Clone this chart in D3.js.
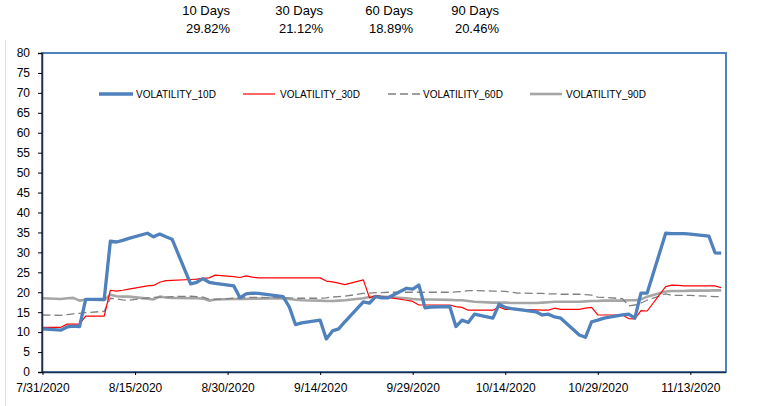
<!DOCTYPE html>
<html>
<head>
<meta charset="utf-8">
<script src="https://cdn.jsdelivr.net/npm/d3@7"></script>
<style>
  html, body { margin: 0; padding: 0; background: #fff; }
  svg { display: block; font-family: "Liberation Sans", Arial, Helvetica, sans-serif; }
</style>
</head>
<body>
<svg id="chart" width="760" height="406"></svg>
<script>
// ---- data ----
const dates = [
  "7/31/2020","8/3/2020","8/4/2020","8/5/2020","8/6/2020","8/7/2020",
  "8/10/2020","8/11/2020","8/12/2020","8/13/2020","8/14/2020",
  "8/17/2020","8/18/2020","8/19/2020","8/20/2020","8/21/2020",
  "8/24/2020","8/25/2020","8/26/2020","8/27/2020","8/28/2020",
  "8/31/2020","9/1/2020","9/2/2020","9/3/2020","9/4/2020",
  "9/8/2020","9/9/2020","9/10/2020","9/11/2020",
  "9/14/2020","9/15/2020","9/16/2020","9/17/2020","9/18/2020",
  "9/21/2020","9/22/2020","9/23/2020","9/24/2020","9/25/2020",
  "9/28/2020","9/29/2020","9/30/2020","10/1/2020","10/2/2020",
  "10/5/2020","10/6/2020","10/7/2020","10/8/2020","10/9/2020",
  "10/12/2020","10/13/2020","10/14/2020","10/15/2020","10/16/2020",
  "10/19/2020","10/20/2020","10/21/2020","10/22/2020","10/23/2020",
  "10/26/2020","10/27/2020","10/28/2020","10/29/2020","10/30/2020",
  "11/2/2020","11/3/2020","11/4/2020","11/5/2020","11/6/2020",
  "11/9/2020","11/10/2020","11/11/2020","11/12/2020","11/13/2020",
  "11/16/2020","11/17/2020","11/18/2020"
];
const vol10 = [
  10.8,10.5,11.3,11.5,11.4,18.2,
  18.2,32.8,32.6,33.0,33.5,
  34.8,33.9,34.6,33.9,33.3,
  22.1,22.5,23.4,22.5,22.2,
  21.6,18.6,19.6,19.8,19.7,
  18.9,16.3,11.9,12.3,
  13.0,8.3,10.3,10.8,12.6,
  17.6,17.3,18.9,18.6,18.6,
  21.0,20.8,21.8,16.1,16.3,
  16.4,11.4,13.0,12.4,14.5,
  13.5,17.0,16.2,15.9,15.7,
  15.1,14.3,14.5,13.8,13.5,
  9.3,8.7,12.6,13.0,13.5,
  14.3,14.5,13.5,19.8,19.8,
  34.8,34.7,34.7,34.7,34.6,
  34.1,29.9,29.82
];
const vol30 = [
  11.2,11.2,12.0,12.0,12.0,14.0,
  14.0,20.5,20.3,20.5,20.8,
  21.6,21.7,22.5,22.9,23.0,
  23.2,23.3,23.5,23.6,24.3,
  23.9,23.7,24.1,23.8,23.6,
  23.6,23.6,23.6,23.6,
  23.6,22.8,22.6,22.3,21.9,
  23.1,18.6,19.2,18.9,18.7,
  18.0,17.7,16.8,16.8,16.8,
  16.8,16.4,16.2,15.5,15.5,
  15.5,16.3,15.7,15.7,15.7,
  15.6,15.5,15.5,16.0,15.7,
  15.7,16.0,16.2,14.3,14.3,
  14.3,13.4,13.3,15.4,15.3,
  21.4,21.8,21.7,21.6,21.6,
  21.6,21.6,21.12
];
const vol60 = [
  14.3,14.2,14.4,14.6,14.7,14.9,
  15.2,18.5,18.3,18.1,18.0,
  18.6,18.7,18.8,18.8,18.9,
  19.0,18.9,18.8,18.3,18.2,
  18.5,18.6,18.7,18.7,18.7,
  18.6,18.6,18.5,18.5,
  18.5,18.6,18.8,18.9,19.0,
  19.7,19.8,19.9,19.9,20.0,
  20.0,20.0,20.0,20.0,20.0,
  20.0,20.1,20.2,20.4,20.4,
  20.3,20.3,20.2,20.0,19.8,
  19.7,19.7,19.6,19.6,19.5,
  19.5,19.4,19.3,18.8,18.7,
  18.4,16.6,16.8,17.3,18.0,
  19.6,19.2,19.2,19.2,19.2,
  19.0,18.9,18.89
];
const vol90 = [
  18.5,18.3,18.5,18.6,17.9,18.2,
  18.0,19.4,19.0,18.9,18.9,
  18.4,18.2,18.9,18.7,18.6,
  18.5,18.5,18.4,17.9,18.2,
  18.3,18.3,18.3,18.4,18.4,
  18.5,18.3,18.1,18.0,
  17.9,17.8,17.8,17.9,18.0,
  18.5,18.8,18.9,18.9,18.8,
  18.5,18.3,18.2,18.2,18.2,
  18.1,18.0,18.0,17.8,17.6,
  17.4,17.4,17.4,17.3,17.3,
  17.3,17.4,17.5,17.6,17.6,
  17.6,17.7,17.8,17.8,17.9,
  17.9,18.0,18.0,18.2,18.9,
  20.2,20.3,20.3,20.3,20.4,
  20.4,20.5,20.46
];
const seriesNames = ["VOLATILITY_10D","VOLATILITY_30D","VOLATILITY_60D","VOLATILITY_90D"];
const headerLabels = ["10 Days","30 Days","60 Days","90 Days"];
const headerValues = ["29.82%","21.12%","18.89%","20.46%"];
const yTicks = [0,5,10,15,20,25,30,35,40,45,50,55,60,65,70,75,80];
const xTickLabels = ["7/31/2020","8/15/2020","8/30/2020","9/14/2020","9/29/2020","10/14/2020","10/29/2020","11/13/2020"];

// ---- drawing ----
const parse = d3.timeParse("%m/%d/%Y");
const fmt = d3.timeFormat("%-m/%-d/%Y");
const svg = d3.select("#chart");
const L = 42, R = 726, T = 53, B = 372;

const x = d3.scaleTime()
  .domain([parse("7/31/2020"), parse("11/18/2020")])
  .range([42.5, 721.2]);
const y = d3.scaleLinear().domain([0, 80]).range([B, T]);

// faint outer frame line on the left
svg.append("line").attr("x1", 5.5).attr("x2", 5.5).attr("y1", 40).attr("y2", 406)
  .attr("stroke", "#e0e0e0").attr("stroke-width", 1);

// plot border (blue)
svg.append("rect").attr("x", L).attr("y", T).attr("width", R - L).attr("height", B - T)
  .attr("fill", "none").attr("stroke", "#4F81BD").attr("stroke-width", 2);

// header
const hx = [230, 323, 413, 499];
headerLabels.forEach((t, i) => {
  svg.append("text").attr("x", hx[i]).attr("y", 15).attr("text-anchor", "end")
    .attr("font-size", 13).attr("fill", "#000").text(t);
  svg.append("text").attr("x", hx[i]).attr("y", 33).attr("text-anchor", "end")
    .attr("font-size", 13).attr("fill", "#000").text(headerValues[i]);
});

// lines
const pts = arr => arr.map((v, i) => [parse(dates[i]), v]);
const line = d3.line().x(d => x(d[0])).y(d => y(d[1]));
const styles = [
  { data: vol90, color: "#A6A6A6", width: 2.6, dash: null },
  { data: vol60, color: "#808080", width: 1.3, dash: "8,4" },
  { data: vol30, color: "#FF0000", width: 1.2, dash: null },
  { data: vol10, color: "#4F81BD", width: 3.3, dash: null }
];
styles.forEach(s => {
  svg.append("path").attr("d", line(pts(s.data)))
    .attr("fill", "none").attr("stroke", s.color).attr("stroke-width", s.width)
    .attr("stroke-linejoin", "round")
    .attr("stroke-dasharray", s.dash);
});

// axes
const yAxis = d3.axisLeft(y).tickValues(yTicks).tickSize(4).tickPadding(8);
const gy = svg.append("g").attr("transform", `translate(${L},0)`).call(yAxis);
gy.select(".domain").attr("stroke", "#1f2d4d").attr("stroke-width", 1.5);
gy.selectAll(".tick line").attr("stroke", "#000");
gy.selectAll("text").attr("font-size", 12).attr("fill", "#000")
  .attr("font-family", "Liberation Sans, Arial, sans-serif");

const xAxis = d3.axisBottom(x).tickValues(xTickLabels.map(parse)).tickFormat(fmt)
  .tickSize(3).tickPadding(8);
const gx = svg.append("g").attr("transform", `translate(0,${B})`).call(xAxis);
gx.select(".domain").attr("stroke", "#1f2d4d").attr("stroke-width", 1.5)
  .attr("d", `M${L},0.5H${R}`);
gx.selectAll(".tick line").attr("stroke", "#000");
gx.selectAll("text").attr("font-size", 12).attr("fill", "#000")
  .attr("font-family", "Liberation Sans, Arial, sans-serif");

// legend
const legend = [
  { name: seriesNames[0], x1: 99, x2: 133, tx: 136, color: "#4F81BD", width: 3.3, dash: null },
  { name: seriesNames[1], x1: 243, x2: 275, tx: 280, color: "#FF0000", width: 1.2, dash: null },
  { name: seriesNames[2], x1: 388, x2: 420, tx: 423, color: "#808080", width: 1.3, dash: "8,4" },
  { name: seriesNames[3], x1: 530, x2: 562, tx: 566, color: "#A6A6A6", width: 2.6, dash: null }
];
legend.forEach(l => {
  svg.append("line").attr("x1", l.x1).attr("x2", l.x2).attr("y1", 94).attr("y2", 94)
    .attr("stroke", l.color).attr("stroke-width", l.width).attr("stroke-dasharray", l.dash);
  svg.append("text").attr("x", l.tx).attr("y", 97.5).attr("font-size", 10)
    .attr("fill", "#000").text(l.name);
});
</script>
</body>
</html>
